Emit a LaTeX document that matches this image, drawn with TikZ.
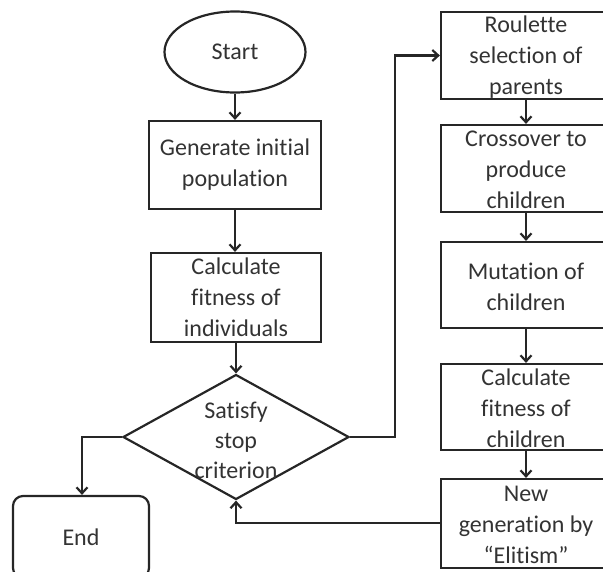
\documentclass[tikz,border=0pt]{standalone}
\usepackage{fontspec}
\setmainfont{Carlito}[Ligatures={NoCommon}]
\usetikzlibrary{arrows.meta,shapes.geometric}
\begin{document}
\begin{tikzpicture}[x=1pt,y=-1pt,
  every path/.style={line width=2.2pt},
  ln/.style={draw=black!85,line width=2.2pt},
  box/.style={ln,rectangle,inner sep=0pt,minimum width=170pt},
  txt/.style={inner sep=0pt,align=center,font=\fontsize{24}{31}\selectfont,text=black!80},
  arr/.style={ln,-{Straight Barb[length=6pt,width=11pt,line width=2.2pt]}}]
\useasboundingbox (0,0) rectangle (603,571);
% left column
\node[ln,ellipse,inner sep=0pt,minimum width=141pt,minimum height=81pt] (start) at (235,52) {};
\node[txt] (tstart) at (start) {Start};
\node[box,minimum width=172pt,minimum height=88pt] (gen) at (235,165) {};
\node[txt] (tgen) at (gen) {Generate initial\\population};
\node[box,minimum width=170pt,minimum height=89pt] (calc) at (236,297.5) {};
\node[txt] (tcalc) at (calc) {Calculate\\fitness of\\individuals};
\node[ln,diamond,inner sep=0pt,minimum width=226pt,minimum height=125pt] (dec) at (236,437) {};
\node[txt,font=\fontsize{24}{30}\selectfont] (tdec) at (236,440) {Satisfy\\stop\\criterion};
\node[ln,rectangle,rounded corners=10pt,inner sep=0pt,minimum width=136pt,minimum height=82pt] (end) at (81,537) {};
\node[txt] (tend) at (end) {End};
% right column
\node[box,minimum height=87pt] (rou) at (526,55.5) {};
\node[txt] (trou) at (526,57) {Roulette\\selection of\\parents};
\node[box,minimum height=87pt] (cross) at (526,168.5) {};
\node[txt] (tcross) at (526,170) {Crossover to\\produce\\children};
\node[box,minimum height=86pt] (mut) at (526,285) {};
\node[txt] (tmut) at (526,287) {Mutation of\\children};
\node[box,minimum height=86pt] (cfc) at (526,407) {};
\node[txt] (tcfc) at (526,408) {Calculate\\fitness of\\children};
\node[box,minimum height=89pt] (ng) at (526,523.5) {};
\node[txt] (tng) at (526,525) {New\\generation by\\``Elitism''};
% connectors
\draw[arr] (start.south) -- (gen.north);
\draw[arr] (gen.south) -- (gen.south |- calc.north);
\draw[arr] (calc.south) -- (dec.north);
\coordinate (lk) at (82,437);
\draw[arr] (dec.west) -- (lk) -- (lk |- end.north);
\coordinate (rk) at (395,437);
\draw[arr] (dec.east) -- (rk) -- (rk |- rou.west) -- (rou.west);
\draw[arr] (rou.south) -- (cross.north);
\draw[arr] (cross.south) -- (mut.north);
\draw[arr] (mut.south) -- (cfc.north);
\draw[arr] (cfc.south) -- (ng.north);
\coordinate (bk) at (236,523);
\draw[arr] (ng.west |- bk) -- (bk) -- (dec.south);
\end{tikzpicture}
\end{document}
